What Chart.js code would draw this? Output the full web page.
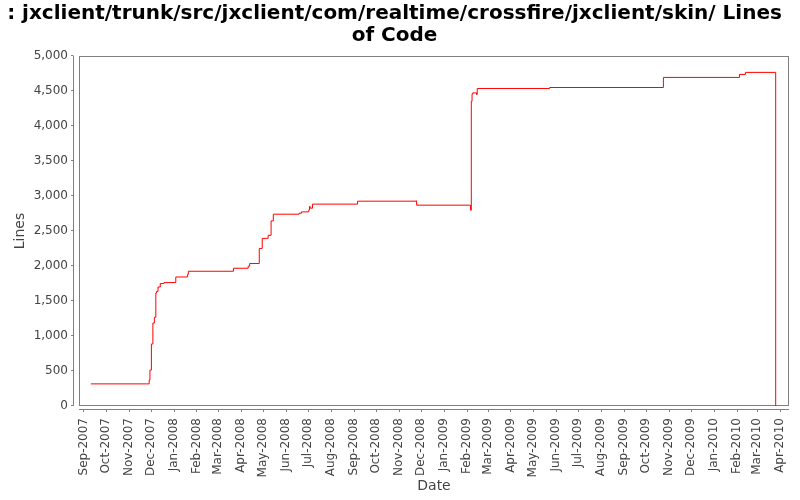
<!DOCTYPE html>
<html>
<head>
<meta charset="utf-8">
<title>Lines of Code</title>
<script src="https://cdn.jsdelivr.net/npm/chart.js@4.4.1/dist/chart.umd.min.js"></script>
<style>
  html, body { margin: 0; padding: 0; background: #fff; }
  canvas { display: block; }
</style>
</head>
<body>
<canvas id="loc" width="800" height="500"></canvas>
<script>
// commit dates and the line count after each one
const dates = [
  "2007-09-11", "2007-11-29", "2007-11-30", "2007-12-02", "2007-12-04", "2007-12-06",
  "2007-12-08", "2007-12-09", "2007-12-11", "2007-12-14", "2007-12-19", "2008-01-04",
  "2008-01-20", "2008-01-21", "2008-03-22", "2008-04-11", "2008-04-13", "2008-04-26",
  "2008-04-30", "2008-05-08", "2008-05-12", "2008-05-15", "2008-06-19", "2008-06-22",
  "2008-07-02", "2008-07-03", "2008-07-04", "2008-07-07", "2008-09-06", "2008-11-24",
  "2008-11-25", "2009-02-06", "2009-02-07", "2009-02-08", "2009-02-09", "2009-02-14",
  "2009-02-15", "2009-05-24", "2009-10-25", "2010-02-05", "2010-02-13", "2010-03-26"
];
const lines = [
  316, 369, 513, 886, 1185, 1268,
  1614, 1638, 1700, 1749, 1763, 1843,
  1882, 1925, 1968, 1997, 2036, 2251,
  2395, 2438, 2644, 2740, 2754, 2773,
  2802, 2849, 2826, 2884, 2926, 2931,
  2869, 2797, 4353, 4458, 4473, 4450,
  4536, 4550, 4694, 4737, 4766, 0
];

const monthNames = ["Jan", "Feb", "Mar", "Apr", "May", "Jun", "Jul", "Aug", "Sep", "Oct", "Nov", "Dec"];
const xStart = "2007-08-26";
const xEnd = "2010-04-13";
const yTicks = [0, 500, 1000, 1500, 2000, 2500, 3000, 3500, 4000, 4500, 5000];

const toMs = s => Date.parse(s + "T00:00:00Z");

// one tick at the start of every month in range
function monthTicks() {
  const out = [];
  const d = new Date(toMs(xStart));
  let y = d.getUTCFullYear(), m = d.getUTCMonth() + 1;
  while (Date.UTC(y, m, 1) <= toMs(xEnd)) {
    out.push({ value: Date.UTC(y, m, 1) });
    m++;
    if (m > 11) { m = 0; y++; }
  }
  return out;
}

const font = "'DejaVu Sans', sans-serif";

// JFreeChart-like frame: outline of the plot, offset axis lines and tick marks
const axisFrame = {
  id: 'axisFrame',
  beforeDatasetsDraw(chart) {
    const { ctx, chartArea: a, scales: { x, y } } = chart;
    ctx.save();
    ctx.strokeStyle = '#808080';
    ctx.lineWidth = 1;
    ctx.strokeRect(a.left + 0.5, a.top + 0.5, a.right - a.left - 1, a.bottom - a.top - 1);

    ctx.beginPath();
    const ax = a.left - 5.5;
    ctx.moveTo(ax, a.top);
    ctx.lineTo(ax, a.bottom);
    y.ticks.forEach(t => {
      const py = Math.round(y.getPixelForValue(t.value)) - 0.5;
      ctx.moveTo(ax - 2.5, py);
      ctx.lineTo(ax, py);
    });
    const ay = a.bottom + 3.5;
    ctx.moveTo(a.left, ay);
    ctx.lineTo(a.right, ay);
    x.ticks.forEach(t => {
      const px = Math.round(x.getPixelForValue(t.value)) + 0.5;
      ctx.moveTo(px, ay);
      ctx.lineTo(px, ay + 2.5);
    });
    ctx.stroke();
    ctx.restore();
  }
};

new Chart(document.getElementById('loc'), {
  type: 'line',
  data: {
    datasets: [{
      label: 'Lines of Code',
      data: dates.map((d, i) => ({ x: toMs(d), y: lines[i] })),
      borderColor: '#ff0000',
      borderWidth: 1,
      pointRadius: 0,
      stepped: true,
      fill: false
    }]
  },
  options: {
    responsive: false,
    animation: false,
    layout: { padding: { left: 0, right: 11, top: 0, bottom: 0 } },
    plugins: {
      legend: { display: false },
      tooltip: { enabled: false },
      title: {
        display: true,
        text: [": jxclient/trunk/src/jxclient/com/realtime/crossfire/jxclient/skin/ Lines", "of Code"],
        color: '#000',
        font: { family: font, size: 20, weight: 'bold', lineHeight: 1.1 },
        padding: { top: 3, bottom: 9 }
      }
    },
    scales: {
      x: {
        type: 'linear',
        min: toMs(xStart),
        max: toMs(xEnd),
        afterBuildTicks: scale => { scale.ticks = monthTicks(); },
        afterFit: scale => {
          scale.height = 94;
          scale.paddingLeft = 0;
          scale.paddingRight = 0;
        },
        grid: { display: false, drawTicks: false },
        border: { display: false },
        ticks: {
          autoSkip: false,
          minRotation: 90,
          maxRotation: 90,
          padding: 12,
          color: '#444',
          font: { family: font, size: 12 },
          callback: v => {
            const d = new Date(v);
            return monthNames[d.getUTCMonth()] + "-" + d.getUTCFullYear();
          }
        },
        title: {
          display: true,
          text: 'Date',
          color: '#444',
          font: { family: font, size: 14 },
          padding: { top: 0, bottom: 5 }
        }
      },
      y: {
        min: 0,
        max: 5000,
        afterBuildTicks: scale => { scale.ticks = yTicks.map(v => ({ value: v })); },
        afterFit: scale => { scale.width = 79; },
        grid: { display: false, drawTicks: false },
        border: { display: false },
        ticks: {
          padding: 11,
          color: '#444',
          font: { family: font, size: 12 },
          callback: v => v.toLocaleString('en-US')
        },
        title: {
          display: true,
          text: 'Lines',
          color: '#444',
          font: { family: font, size: 14 },
          padding: { top: 12, bottom: 0 }
        }
      }
    }
  },
  plugins: [axisFrame]
});
</script>
</body>
</html>
